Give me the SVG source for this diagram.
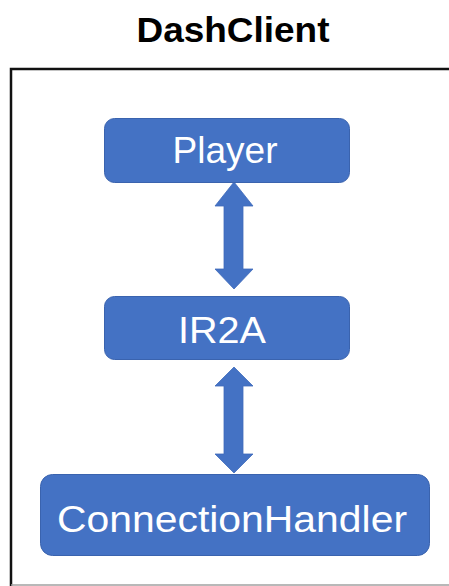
<svg xmlns="http://www.w3.org/2000/svg" width="449" height="586" viewBox="0 0 449 586">
  <style>
    .node { fill: #4472C4; stroke: #3A63AE; stroke-width: 1; }
    .label { font-family: "Liberation Sans", Arial, sans-serif; font-size: 37px; fill: #FFFFFF; text-anchor: middle; }
    .title { font-family: "Liberation Sans", Arial, sans-serif; font-size: 35px; font-weight: bold; fill: #000000; text-anchor: middle; }
    .arrow { fill: #4472C4; stroke: #3F6BBB; stroke-width: 0.8; }
  </style>
  <rect x="0" y="0" width="449" height="586" fill="#FFFFFF"/>
  <g id="container">
    <text class="title" x="233" y="42" textLength="193" lengthAdjust="spacingAndGlyphs">DashClient</text>
    <path d="M 11 586 V 69 H 449" fill="none" stroke="#111111" stroke-width="2.5"/>
    <line x1="11" y1="585" x2="449" y2="585" stroke="#A0A0A0" stroke-width="1.5"/>
  </g>
  <g id="connectors">
    <polygon class="arrow" points="234,182 253,206 243,206 243,269 253,269 234,289 215,269 224,269 224,206 215,206"/>
    <polygon class="arrow" points="234,367 253,386 243,386 243,454 253,454 234,473 215,454 224,454 224,386 215,386"/>
  </g>
  <g id="player">
    <rect class="node" x="104.5" y="118.5" width="245" height="64" rx="10"/>
    <text class="label" x="225" y="163" textLength="105" lengthAdjust="spacingAndGlyphs">Player</text>
  </g>
  <g id="ir2a">
    <rect class="node" x="104.5" y="296.5" width="245" height="63" rx="10"/>
    <text class="label" x="222" y="343" textLength="88" lengthAdjust="spacingAndGlyphs">IR2A</text>
  </g>
  <g id="connectionhandler">
    <rect class="node" x="40.5" y="474.5" width="389" height="81" rx="12"/>
    <text class="label" x="232" y="532" textLength="350" lengthAdjust="spacingAndGlyphs">ConnectionHandler</text>
  </g>
</svg>
